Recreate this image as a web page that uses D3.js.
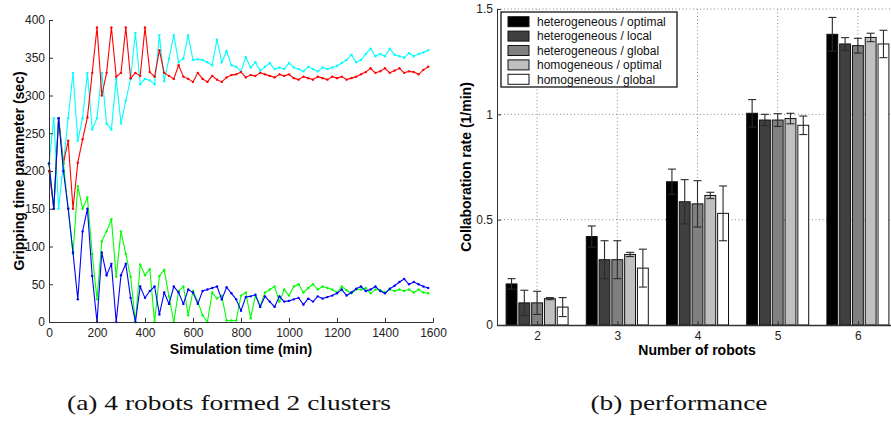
<!DOCTYPE html>
<html>
<head>
<meta charset="utf-8">
<script src="https://cdn.jsdelivr.net/npm/d3@7/dist/d3.min.js"></script>
<style>
body{margin:0;background:#fff;}
svg{display:block;font-family:"Liberation Sans",Arial,sans-serif;}
</style>
</head>
<body>
<svg id="fig" width="891" height="424"></svg>
<script>
// (a) gripping time parameter of each robot, sampled every 20 min
var simTime = [0,20,40,60,80,100,120,140,160,180,200,220,240,260,280,300,320,340,360,380,
    400,420,440,460,480,500,520,540,560,580,600,620,640,660,680,700,720,740,760,780,
    800,820,840,860,880,900,920,940,960,980,1000,1020,1040,1060,1080,1100,1120,1140,1160,1180,
    1200,1220,1240,1260,1280,1300,1320,1340,1360,1380,1400,1420,1440,1460,1480,1500,1520,1540,1560,1580];
var gripRed = [200,150,270,210,240,150,211,242,271,330,
    390,300,330,390,325,330,390,323,330,326,
    390,331,325,360,330,326,322,340,325,322,
    318,330,322,318,326,321,318,324,327,328,
    331,324,327,326,330,328,326,324,328,326,
    328,323,321,325,323,321,325,323,321,325,
    323,325,321,323,325,328,331,336,330,332,
    336,330,333,336,330,332,331,328,334,338];
var gripCyan = [210,270,150,210,270,330,240,270,330,255,
    270,330,263,255,322,263,293,322,383,315,
    322,320,315,380,319,349,380,344,349,380,
    347,348,347,344,340,374,344,359,340,338,
    332,351,337,344,333,338,343,335,337,335,
    343,337,335,332,338,335,332,337,335,337,
    339,343,347,354,344,347,355,362,352,355,
    352,362,354,352,350,356,352,355,357,360];
var gripGreen = [210,150,270,210,150,90,180,150,165,90,
    30,107,120,136,60,120,90,60,0,76,
    62,70,0,61,69,34,0,41,47,9,
    41,27,9,0,39,31,35,2,2,2,
    35,39,5,35,21,39,43,47,27,43,
    35,47,50,39,45,50,43,47,45,43,
    39,47,42,38,43,43,45,38,43,42,
    39,43,41,43,41,43,39,43,39,38];
var gripBlue = [210,150,270,200,150,92,30,120,150,61,
    0,92,62,77,0,62,77,32,0,47,
    32,41,47,10,39,24,47,39,24,43,
    39,24,41,43,45,47,30,46,38,30,
    15,33,34,36,20,34,27,20,34,27,
    28,30,32,23,31,27,34,31,33,35,
    38,43,35,39,44,47,41,43,47,41,
    38,44,48,53,57,50,53,50,47,45];
var timeTicks = [0,200,400,600,800,1000,1200,1400,1600];
var gripTicks = [0,50,100,150,200,250,300,350,400];

// (b) collaboration rate per number of robots
var robots = [2,3,4,5,6];
var strategies = ["heterogeneous / optimal","heterogeneous / local","heterogeneous / global",
    "homogeneous / optimal","homogeneous / global"];
var rateHetOptimal = [0.195,0.42,0.68,1.005,1.38];
var rateHetLocal   = [0.105,0.31,0.585,0.973,1.334];
var rateHetGlobal  = [0.105,0.31,0.575,0.973,1.326];
var rateHomOptimal = [0.125,0.335,0.615,0.98,1.365];
var rateHomGlobal  = [0.085,0.27,0.53,0.948,1.334];
var errHetOptimal = [0.025,0.05,0.06,0.065,0.08];
var errHetLocal   = [0.06,0.09,0.105,0.027,0.03];
var errHetGlobal  = [0.055,0.09,0.11,0.03,0.035];
var errHomOptimal = [0.005,0.01,0.015,0.025,0.02];
var errHomGlobal  = [0.045,0.09,0.13,0.044,0.065];
var rateTicks = [0,0.5,1,1.5];

var svg = d3.select("#fig");
svg.append("rect").attr("width",891).attr("height",424).attr("fill","#fff");

//---------------- (a) line chart ----------------
var xL = d3.scaleLinear().domain([0,1600]).range([49,433]);
var yL = d3.scaleLinear().domain([0,400]).range([322,20]);
var gA = svg.append("g");

var series = [
    {vals: gripCyan, color: "#00ffff"},
    {vals: gripRed, color: "#ff0000"},
    {vals: gripGreen, color: "#00ff00"},
    {vals: gripBlue, color: "#0000ff"}
];
var line = d3.line()
    .x(function(d){ return xL(d[0]); })
    .y(function(d){ return yL(d[1]); });

series.forEach(function(s){
    var pts = simTime.map(function(t,i){ return [t, s.vals[i]]; });
    gA.append("path")
        .attr("d", line(pts))
        .attr("fill","none")
        .attr("stroke", s.color)
        .attr("stroke-width",1.1);
    gA.append("g").selectAll("circle").data(pts).enter().append("circle")
        .attr("cx", function(d){ return xL(d[0]); })
        .attr("cy", function(d){ return yL(d[1]); })
        .attr("r",1.2)
        .attr("fill", s.color);
});

var axBottomA = gA.append("g").attr("transform","translate(0,322)")
    .call(d3.axisBottom(xL).tickValues(timeTicks).tickFormat(d3.format("d"))
        .tickSizeInner(-4).tickSizeOuter(0).tickPadding(6));
var axLeftA = gA.append("g").attr("transform","translate(49,0)")
    .call(d3.axisLeft(yL).tickValues(gripTicks).tickSizeInner(-4).tickSizeOuter(0).tickPadding(4));
[axBottomA, axLeftA].forEach(function(a){
    a.selectAll("text").attr("font-size",12).attr("fill","#222").attr("font-family","Liberation Sans, Arial");
    a.selectAll("line,path").attr("stroke","#333");
});

gA.append("text").attr("x",241).attr("y",354).attr("text-anchor","middle")
    .attr("font-size",14).attr("font-weight","bold").text("Simulation time (min)");
gA.append("text").attr("transform","translate(24,171) rotate(-90)").attr("text-anchor","middle")
    .attr("font-size",14).attr("font-weight","bold").text("Gripping time parameter (sec)");

//---------------- (b) bar chart ----------------
var xB = d3.scaleLinear().domain([1.5,6.5]).range([497,898]);
var yB = d3.scaleLinear().domain([0,1.5]).range([325,9]);
var xOff = d3.scaleBand().domain(strategies).range([-31,31]).paddingInner(0.15);
var fills = ["#000000","#404040","#808080","#c0c0c0","#ffffff"];
var rates = [rateHetOptimal, rateHetLocal, rateHetGlobal, rateHomOptimal, rateHomGlobal];
var errs = [errHetOptimal, errHetLocal, errHetGlobal, errHomOptimal, errHomGlobal];
var gB = svg.append("g");

// dotted grid
gB.append("g").selectAll("line").data(robots).enter().append("line")
    .attr("x1", xB).attr("x2", xB).attr("y1", yB(0)).attr("y2", yB(1.5))
    .attr("stroke","#888").attr("stroke-dasharray","1,2.5");
gB.append("g").selectAll("line").data(rateTicks.slice(1)).enter().append("line")
    .attr("x1", xB(1.5)).attr("x2", xB(6.5)).attr("y1", yB).attr("y2", yB)
    .attr("stroke","#888").attr("stroke-dasharray","1,2.5");

var barRows = [];
robots.forEach(function(r,i){
    strategies.forEach(function(s,j){
        barRows.push({robots: r, strat: s, idx: j, v: rates[j][i], e: errs[j][i]});
    });
});

gB.append("g").selectAll("rect").data(barRows).enter().append("rect")
    .attr("x", function(d){ return xB(d.robots) + xOff(d.strat); })
    .attr("y", function(d){ return yB(d.v); })
    .attr("width", xOff.bandwidth())
    .attr("height", function(d){ return yB(0) - yB(d.v); })
    .attr("fill", function(d){ return fills[d.idx]; })
    .attr("stroke","#111").attr("stroke-width",1);

var eb = gB.append("g").attr("stroke","#2a2a2a").attr("stroke-width",1.1);
barRows.forEach(function(d){
    var cx = xB(d.robots) + xOff(d.strat) + xOff.bandwidth()/2;
    eb.append("line").attr("x1",cx).attr("x2",cx).attr("y1",yB(d.v-d.e)).attr("y2",yB(d.v+d.e));
    eb.append("line").attr("x1",cx-4).attr("x2",cx+4).attr("y1",yB(d.v-d.e)).attr("y2",yB(d.v-d.e));
    eb.append("line").attr("x1",cx-4).attr("x2",cx+4).attr("y1",yB(d.v+d.e)).attr("y2",yB(d.v+d.e));
});

var axBottomB = gB.append("g").attr("transform","translate(0,325)")
    .call(d3.axisBottom(xB).tickValues(robots).tickFormat(d3.format("d"))
        .tickSizeInner(-4).tickSizeOuter(0).tickPadding(6));
var axLeftB = gB.append("g").attr("transform","translate(497,0)")
    .call(d3.axisLeft(yB).tickValues(rateTicks).tickFormat(function(d){ return String(d); })
        .tickSizeInner(-4).tickSizeOuter(0).tickPadding(4));
[axBottomB, axLeftB].forEach(function(a){
    a.selectAll("text").attr("font-size",12).attr("fill","#222").attr("font-family","Liberation Sans, Arial");
    a.selectAll("line,path").attr("stroke","#333");
});
axBottomB.select("path").attr("stroke-width",1.6);

gB.append("text").attr("x",697).attr("y",355).attr("text-anchor","middle")
    .attr("font-size",14).attr("font-weight","bold").text("Number of robots");
gB.append("text").attr("transform","translate(471,167) rotate(-90)").attr("text-anchor","middle")
    .attr("font-size",14).attr("font-weight","bold").text("Collaboration rate (1/min)");

// legend
var lg = gB.append("g");
lg.append("rect").attr("x",501).attr("y",12).attr("width",176).attr("height",75)
    .attr("fill","#fff").attr("stroke","#000").attr("stroke-width",1.2);
strategies.forEach(function(s,j){
    var cy = 21.7 + j*14.4;
    lg.append("rect").attr("x",508).attr("y",cy-5).attr("width",21).attr("height",10)
        .attr("fill",fills[j]).attr("stroke","#111");
    lg.append("text").attr("x",537).attr("y",cy+4.3).attr("font-size",12).attr("fill","#111").text(s);
});

//---------------- captions ----------------
svg.append("text").attr("x",229).attr("y",410).attr("text-anchor","middle")
    .attr("font-family","Liberation Serif, Times New Roman, serif").attr("font-size",22)
    .attr("fill","#111")
    .attr("textLength",324).attr("lengthAdjust","spacingAndGlyphs")
    .text("(a) 4 robots formed 2 clusters");
svg.append("text").attr("x",679).attr("y",410).attr("text-anchor","middle")
    .attr("font-family","Liberation Serif, Times New Roman, serif").attr("font-size",22)
    .attr("fill","#111")
    .attr("textLength",177).attr("lengthAdjust","spacingAndGlyphs")
    .text("(b) performance");
</script>
</body>
</html>
